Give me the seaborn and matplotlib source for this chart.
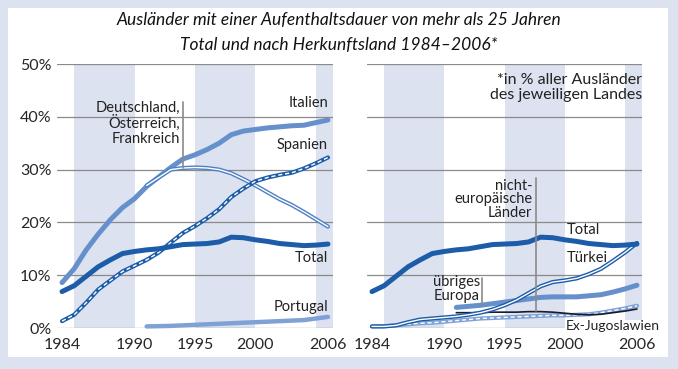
import numpy as np
import pandas as pd
import matplotlib.pyplot as plt
import seaborn as sns
from matplotlib.patches import Rectangle

# --- data (% of all foreigners of each country) ---
years = list(range(1984, 2007))
years_91 = list(range(1991, 2007))

total = [6.9, 8.0, 9.8, 11.6, 12.9, 14.1, 14.5, 14.8, 15.0, 15.4, 15.8, 15.9,
         16.0, 16.3, 17.2, 17.1, 16.7, 16.4, 16.0, 15.8, 15.6, 15.7, 15.9]
italien = [8.6, 11.2, 14.8, 17.8, 20.5, 22.8, 24.5, 26.8, 28.6, 30.4, 32.0, 32.8,
           33.8, 35.0, 36.6, 37.3, 37.6, 37.9, 38.1, 38.3, 38.4, 38.9, 39.4]
spanien = [1.3, 2.5, 4.8, 7.3, 9.0, 10.7, 11.8, 12.9, 14.3, 16.2, 18.0, 19.3,
           20.8, 22.5, 24.8, 26.4, 27.8, 28.5, 29.0, 29.4, 30.2, 31.2, 32.3]
dof = [27.0, 28.5, 30.0, 30.3, 30.4, 30.3, 30.0, 29.3, 28.2, 27.0, 25.7, 24.4,
       23.3, 22.0, 20.6, 19.2]
portugal = [0.3, 0.35, 0.4, 0.5, 0.6, 0.7, 0.8, 0.9, 1.0, 1.1, 1.2, 1.3, 1.4,
            1.5, 1.8, 2.1]

tuerkei = [0.3, 0.3, 0.5, 1.1, 1.6, 1.8, 2.0, 2.2, 2.5, 2.9, 3.5, 4.3, 5.3, 6.6,
           7.9, 8.7, 9.0, 9.4, 10.2, 11.2, 12.7, 14.3, 16.1]
ex_jugo = [0.3, 0.35, 0.5, 0.7, 0.9, 1.0, 1.2, 1.4, 1.6, 1.8, 1.9, 2.0, 2.1, 2.2,
           2.3, 2.4, 2.4, 2.5, 2.6, 2.9, 3.3, 3.7, 4.2]
uebr_europa = [3.9, 4.1, 4.3, 4.6, 4.9, 5.2, 5.5, 5.8, 5.9, 5.9, 5.9, 6.1, 6.3,
               6.8, 7.4, 8.1]
nicht_eu = [2.9, 2.9, 2.9, 3.0, 3.0, 3.0, 3.1, 3.1, 3.0, 2.8, 2.6, 2.5, 2.6,
            2.9, 3.2, 3.6]

yticks = [0, 10, 20, 30, 40, 50]
ytick_labels = ["0%", "10%", "20%", "30%", "40%", "50%"]
xticks = [1984, 1990, 1995, 2000, 2006]
bands = [(1985, 1990), (1995, 2000), (2005, 2006.4)]

DARK = "#1c5ca8"
MID = "#4f80c2"
LIGHT = "#6690cc"
PALE = "#7fa2d6"
BAND = "#dce2ef"
GRID = "#8a8a8a"

sns.set_theme(style="white")
plt.rcParams["font.family"] = ["Lato", "DejaVu Sans"]

W, H = 678, 369
fig = plt.figure(figsize=(W / 100, H / 100), dpi=100)
fig.patch.set_facecolor(BAND)
fig.add_artist(Rectangle((8 / W, 1 - 357 / H), 660 / W, 349 / H,
                         transform=fig.transFigure, facecolor="white",
                         edgecolor="none", zorder=0))


def make_ax(x0, x1):
    ax = fig.add_axes([x0 / W, 1 - 328 / H, (x1 - x0) / W, 264 / H])
    ax.set_facecolor("none")
    ax.set_xlim(1983.6, 2006.4)
    ax.set_ylim(0, 50)
    for a, b in bands:
        ax.axvspan(a, b, color=BAND, lw=0, zorder=0)
    for v in yticks:
        ax.axhline(v, color=GRID, lw=0.9, zorder=1)
    sns.despine(ax=ax, left=True, bottom=True)
    ax.set_xticks(xticks)
    ax.set_xticklabels([str(t) for t in xticks], fontsize=11.5)
    ax.tick_params(axis="x", length=0, pad=7)
    return ax


def solid(ax, x, y, color, lw=3.6, z=3):
    sns.lineplot(x=x, y=y, ax=ax, color=color, lw=lw, solid_capstyle="round",
                 solid_joinstyle="round", clip_on=False, zorder=z)


def double(ax, x, y, color, dashed=False, z=4):
    sns.lineplot(x=x, y=y, ax=ax, color=color, lw=3.0, solid_capstyle="round",
                 clip_on=False, zorder=z)
    ls = (0, (3, 2)) if dashed else "-"
    sns.lineplot(x=x, y=y, ax=ax, color="white", lw=1.0, linestyle=ls,
                 clip_on=False, zorder=z + 0.1)


# --- left panel ---
axl = make_ax(57.2, 332.8)
axl.set_yticks(yticks)
axl.set_yticklabels(ytick_labels, fontsize=11.5)
axl.tick_params(axis="y", length=0, pad=4)

solid(axl, years, italien, LIGHT)
double(axl, years_91, dof, MID, z=4)
double(axl, years, spanien, DARK, dashed=True, z=5)
solid(axl, years, total, DARK, z=6)
solid(axl, years_91, portugal, PALE, lw=3.2)

axl.plot([1994.0, 1994.0], [30.3, 42.8], color=GRID, lw=1.2, zorder=7)
lab = dict(fontsize=10.5, color="#222222", zorder=8)
axl.text(2006, 42.6, "Italien", ha="right", va="center", **lab)
axl.text(2006, 34.7, "Spanien", ha="right", va="center", **lab)
axl.text(2006, 13.3, "Total", ha="right", va="center", **lab)
axl.text(2006, 4.0, "Portugal", ha="right", va="center", **lab)
axl.text(1993.75, 38.8, "Deutschland,\nÖsterreich,\nFrankreich", ha="right",
         va="center", linespacing=1.05, **lab)

# --- right panel ---
axr = make_ax(367.2, 641.8)
axr.set_yticks([])

double(axr, years, ex_jugo, PALE, dashed=True, z=3)
solid(axr, years_91, nicht_eu, "#1a1a2e", lw=1.2, z=3.5)
solid(axr, years_91, uebr_europa, LIGHT, lw=3.6, z=4)
double(axr, years, tuerkei, DARK, z=5)
solid(axr, years, total, DARK, z=6)

axr.plot([1997.6, 1997.6], [3.2, 28.4], color=GRID, lw=1.2, zorder=7)
axr.plot([1993.1, 1993.1], [4.6, 9.5], color=GRID, lw=1.2, zorder=7)
axr.text(2006.4, 45.5, "*in % aller Ausländer\ndes jeweiligen Landes",
         ha="right", va="center", linespacing=1.1, fontsize=11.5,
         color="#222222", zorder=8)
axr.text(1997.3, 24.4, "nicht-\neuropäische\nLänder", ha="right", va="center",
         linespacing=0.95, **lab)
axr.text(2000.2, 18.6, "Total", ha="left", va="center", **lab)
axr.text(2000.2, 13.3, "Türkei", ha="left", va="center", **lab)
axr.text(1989.1, 7.3, "übriges\nEuropa", ha="left", va="center",
         linespacing=1.0, **lab)
axr.text(2000.1, 0.3, "Ex-Jugoslawien", ha="left", va="center", fontsize=10,
         color="#222222", zorder=8,
         bbox=dict(facecolor="white", edgecolor="none", pad=0.5))

fig.text(0.5, 1 - 20 / H, "Ausländer mit einer Aufenthaltsdauer von mehr als 25 Jahren",
         ha="center", va="center", fontsize=12.5, style="italic", color="#111111")
fig.text(0.5, 1 - 45 / H, "Total und nach Herkunftsland 1984–2006*",
         ha="center", va="center", fontsize=12.5, style="italic", color="#111111")

fig.savefig("out.png", dpi=100, facecolor=fig.get_facecolor())
